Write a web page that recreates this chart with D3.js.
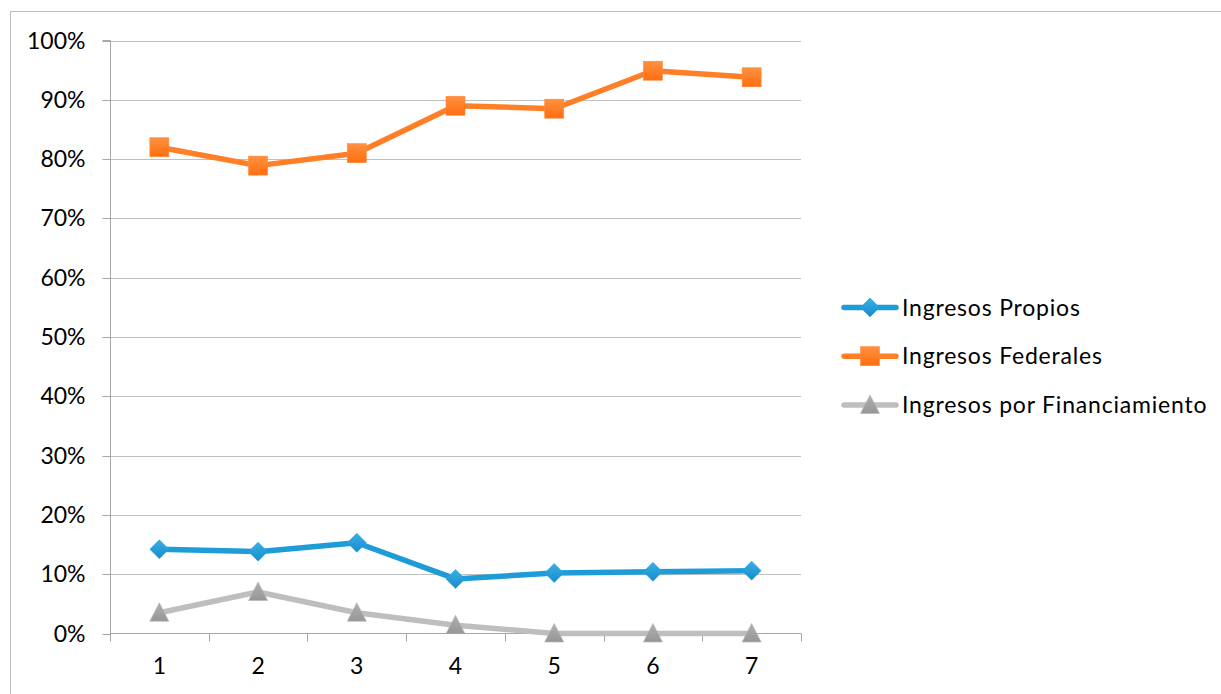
<!DOCTYPE html>
<html>
<head>
<meta charset="utf-8">
<script src="https://cdn.jsdelivr.net/npm/d3@7"></script>
<style>
  html, body { margin: 0; padding: 0; background: #fff; }
  svg { display: block; }
  text { font-family: Lato, "Open Sans", sans-serif; fill: #000; }
</style>
</head>
<body>
<svg id="chart" width="1221" height="694"></svg>
<script>
const categories = ["1", "2", "3", "4", "5", "6", "7"];
const propios = [0.142, 0.138, 0.153, 0.092, 0.102, 0.104, 0.106];
const federales = [0.820, 0.789, 0.810, 0.890, 0.885, 0.949, 0.938];
const financiamiento = [0.035, 0.070, 0.035, 0.014, 0.0, 0.0, 0.0];
const yTicks = [0, 0.1, 0.2, 0.3, 0.4, 0.5, 0.6, 0.7, 0.8, 0.9, 1.0];
const seriesNames = ["Ingresos Propios", "Ingresos Federales", "Ingresos por Financiamiento"];

const series = [
  { name: seriesNames[0], values: propios, color: "#1E9CD8", shape: "diamond" },
  { name: seriesNames[1], values: federales, color: "#FF7F27", shape: "square" },
  { name: seriesNames[2], values: financiamiento, color: "#BEBEBE", shape: "triangle" }
];

const svg = d3.select("#chart");
const defs = svg.append("defs");
const gr = [
  { id: "gDiamond", c1: "#3AAEE6", c2: "#168CCB" },
  { id: "gSquare", c1: "#FF9040", c2: "#FF6E10" },
  { id: "gTriangle", c1: "#B0B0B0", c2: "#969696" }
];
gr.forEach(g => {
  const lg = defs.append("linearGradient").attr("id", g.id).attr("x1", 0).attr("y1", 0).attr("x2", 0).attr("y2", 1);
  lg.append("stop").attr("offset", "0%").attr("stop-color", g.c1);
  lg.append("stop").attr("offset", "100%").attr("stop-color", g.c2);
});
const fillFor = { diamond: "url(#gDiamond)", square: "url(#gSquare)", triangle: "url(#gTriangle)" };

// outer border
svg.append("rect").attr("x", 10.5).attr("y", 11.5).attr("width", 1240).attr("height", 720)
  .attr("fill", "none").attr("stroke", "#BDBDBD").attr("stroke-width", 1);

const pLeft = 110, pRight = 801, pTop = 40.5, pBottom = 633.5;

const x = d3.scaleBand().domain(categories).range([pLeft, pRight]).paddingInner(0).paddingOuter(0);
const y = d3.scaleLinear().domain([0, 1]).range([pBottom, pTop]);

// gridlines
svg.append("g").selectAll("line").data(yTicks.filter(d => d > 0)).join("line")
  .attr("x1", pLeft).attr("x2", pRight)
  .attr("y1", d => Math.round(y(d)) + 0.5).attr("y2", d => Math.round(y(d)) + 0.5)
  .attr("stroke", "#BFBFBF").attr("stroke-width", 1.2);

// y axis
const yAxis = d3.axisLeft(y).tickValues(yTicks).tickFormat(d3.format(".0%")).tickSize(8).tickPadding(17);
const gy = svg.append("g").attr("transform", `translate(${pLeft + 0.5},0)`).call(yAxis);
gy.select(".domain").attr("stroke", "#A6A6A6").attr("d", `M-8,${pTop}H0V${pBottom}`);
gy.selectAll(".tick line").attr("stroke", "#A6A6A6");
gy.selectAll(".tick text").style("font-size", "23px").style("font-family", "Lato, sans-serif").attr("fill", "#000");
gy.selectAll(".tick").attr("transform", d => `translate(0,${Math.round(y(d)) + 0.5})`);

// x axis
const xAxis = d3.axisBottom(x).tickSize(0).tickPadding(24);
const gx = svg.append("g").attr("transform", `translate(0,${pBottom})`).call(xAxis);
gx.select(".domain").attr("stroke", "#A6A6A6").attr("d", `M${pLeft},0H${pRight}`);
gx.selectAll(".tick text").style("font-size", "23px").style("font-family", "Lato, sans-serif").attr("fill", "#000");
const bounds = d3.range(categories.length + 1).map(i => pLeft + i * x.bandwidth());
gx.append("g").selectAll("line").data(bounds).join("line")
  .attr("x1", d => Math.round(d) + 0.5).attr("x2", d => Math.round(d) + 0.5)
  .attr("y1", 0).attr("y2", 8).attr("stroke", "#A6A6A6");

const cx = c => x(c) + x.bandwidth() / 2;

function marker(g, shape, px, py) {
  if (shape === "diamond") {
    g.append("path").attr("d", `M${px},${py - 9.5}L${px + 9.5},${py}L${px},${py + 9.5}L${px - 9.5},${py}Z`)
      .attr("fill", fillFor.diamond).attr("stroke", "#2AA3DE").attr("stroke-width", 0.6);
  } else if (shape === "square") {
    g.append("rect").attr("x", px - 9.5).attr("y", py - 9.5).attr("width", 19).attr("height", 19)
      .attr("fill", fillFor.square).attr("stroke", "#FF8A3A").attr("stroke-width", 0.6);
  } else {
    g.append("path").attr("d", `M${px},${py - 10}L${px + 9.5},${py + 8.5}L${px - 9.5},${py + 8.5}Z`)
      .attr("fill", fillFor.triangle).attr("stroke", "#B4B4B4").attr("stroke-width", 0.6);
  }
}

const line = d3.line().x((d, i) => cx(categories[i])).y(d => y(d));

series.forEach(s => {
  const g = svg.append("g");
  g.append("path").datum(s.values).attr("d", line)
    .attr("fill", "none").attr("stroke", s.color).attr("stroke-width", 5.5).attr("stroke-linejoin", "round");
  s.values.forEach((v, i) => marker(g, s.shape, cx(categories[i]), y(v)));
});

// legend
const legY0 = 307.5, legStep = 48.7;
series.forEach((s, i) => {
  const ly = legY0 + i * legStep;
  const g = svg.append("g");
  g.append("line").attr("x1", 844).attr("x2", 896).attr("y1", ly).attr("y2", ly)
    .attr("stroke", s.color).attr("stroke-width", 5.5).attr("stroke-linecap", "round");
  marker(g, s.shape, 870, ly);
  g.append("text").attr("x", 902).attr("y", ly).attr("dy", "0.35em")
    .style("font-size", "23px").style("letter-spacing", "0.8px").text(s.name);
});
</script>
</body>
</html>
